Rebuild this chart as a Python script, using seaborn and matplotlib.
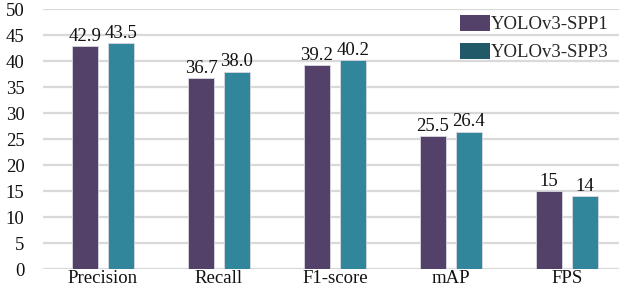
import numpy as np
import pandas as pd
import matplotlib
matplotlib.use('Agg')
import matplotlib.pyplot as plt
from matplotlib.patches import Patch
import seaborn as sns

categories=['Precision', 'Recall', 'F1-score', 'mAP', 'FPS']
spp1=[42.9, 36.7, 39.2, 25.5, 15]
spp3=[43.5, 38.0, 40.2, 26.4, 14]
spp1_labels=['42.9', '36.7', '39.2', '25.5', '15']
spp3_labels=['43.5', '38.0', '40.2', '26.4', '14']
series=['YOLOv3-SPP1', 'YOLOv3-SPP3']

df=pd.DataFrame({
    'metric': categories*2,
    'value': spp1+spp3,
    'model': [series[0]]*5+[series[1]]*5,
})

sns.set_style('white')
plt.rcParams['font.family']=['Liberation Serif', 'DejaVu Serif']
fs=13.5

bar_colors=['#54416A', '#31869B']
legend_colors=['#54416A', '#215968']

fig=plt.figure(figsize=(6.19, 2.95), dpi=100)
ax=fig.add_axes([0.069, 0.088, 0.931, 0.881])

sns.barplot(data=df, x='metric', y='value', hue='model', order=categories,
            hue_order=series, palette=bar_colors, saturation=1, width=0.62,
            gap=0.28, edgecolor='#D8D8E0', linewidth=0.6, ax=ax, zorder=3)

for cont, labs in zip(ax.containers, [spp1_labels, spp3_labels]):
    ax.bar_label(cont, labels=labs, padding=1, fontsize=fs, color='#111111')

ax.set_ylim(0, 50)
ax.set_yticks(range(0, 51, 5))
ax.set_xlim(-0.52, 4.45)
ax.yaxis.grid(True, color='#D9D9D9', linewidth=1.6, zorder=0)
ax.set_axisbelow(True)
for s in ax.spines.values():
    s.set_visible(False)
ax.tick_params(axis='both', length=0, labelsize=fs, colors='#111111')
ax.tick_params(axis='y', pad=13)
ax.tick_params(axis='x', pad=1)
ax.set_xlabel('')
ax.set_ylabel('')

handles=[Patch(facecolor=c, edgecolor='none') for c in legend_colors]
ax.legend(handles, series, loc='upper left', bbox_to_anchor=(0.731, 0.975),
          bbox_transform=fig.transFigure, frameon=False, handlelength=1.6,
          handleheight=0.95, handletextpad=0.05, labelspacing=0.5,
          fontsize=fs, borderaxespad=0)

plt.savefig('out.png', dpi=100)
plt.close()
